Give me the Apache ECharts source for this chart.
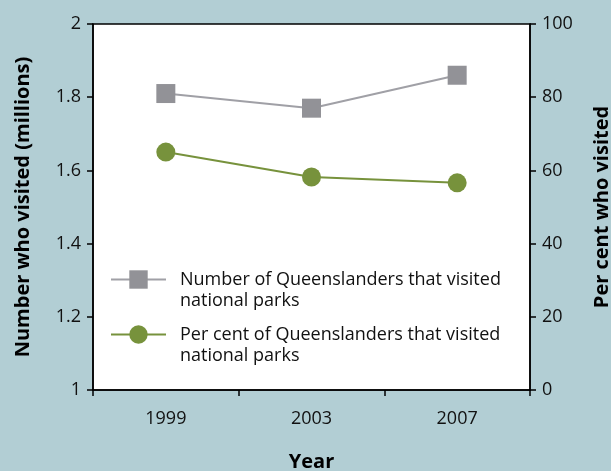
<!DOCTYPE html>
<html>
<head>
<meta charset="utf-8">
<script src="https://cdn.jsdelivr.net/npm/echarts@6/dist/echarts.min.js"></script>
<style>
html,body{margin:0;padding:0;background:#b2ced4;}
#chart{width:611px;height:471px;}
</style>
</head>
<body>
<div id="chart"></div>
<script>
var years = ['1999', '2003', '2007'];
var numberVisited = [1.81, 1.77, 1.86];
var percentVisited = [65, 58.2, 56.6];
var seriesNames = ['Number of Queenslanders that visited\nnational parks', 'Per cent of Queenslanders that visited\nnational parks'];

var FONT = 'Open Sans';
var chart = echarts.init(document.getElementById('chart'));
chart.setOption({
  backgroundColor: '#b2ced4',
  animation: false,
  textStyle: { fontFamily: FONT },
  grid: { left: 93, right: 81, top: 24, bottom: 81, containLabel: false, outerBoundsMode: 'none', show: true, backgroundColor: '#fff', borderColor: '#000', borderWidth: 1.5 },
  legend: {
    orient: 'vertical', left: 110, top: 248, padding: 0, itemWidth: 55, itemHeight: 23, itemGap: -8,
    data: seriesNames,
    formatter: function (name) {
      return '\n' + name.split('\n').map(function (s) { return '{t|' + s + '}'; }).join('\n');
    },
    textStyle: {
      fontFamily: FONT, fontSize: 18, color: '#111', lineHeight: 21,
      rich: { t: { fontFamily: FONT, fontSize: 18, color: '#111', lineHeight: 21, padding: [0, 0, 0, 9] } }
    }
  },
  xAxis: {
    type: 'category', data: years, boundaryGap: true,
    name: 'Year', nameLocation: 'middle', nameGap: 62,
    nameTextStyle: { fontFamily: FONT, fontSize: 20, fontWeight: 'bold', color: '#000' },
    axisLine: { lineStyle: { color: '#000', width: 1.5 } },
    axisTick: { show: true, length: 6, lineStyle: { color: '#000', width: 1.5 } },
    axisLabel: { fontFamily: FONT, fontSize: 18, color: '#111', margin: 20 },
    splitLine: { show: false }
  },
  yAxis: [
    {
      type: 'value', min: 1, max: 2, interval: 0.2, position: 'left',
      name: 'Number who visited (millions)', nameLocation: 'middle', nameGap: 60,
      nameTextStyle: { fontFamily: FONT, fontSize: 20, fontWeight: 'bold', color: '#000' },
      axisLine: { show: true, lineStyle: { color: '#000', width: 1.5 } },
      axisTick: { show: true, length: 6, lineStyle: { color: '#000', width: 1.5 } },
      axisLabel: { fontFamily: FONT, fontSize: 18, color: '#111', margin: 12 },
      splitLine: { show: false }
    },
    {
      type: 'value', min: 0, max: 100, interval: 20, position: 'right',
      name: 'Per cent who visited', nameLocation: 'middle', nameGap: 62, nameRotate: 90,
      nameTextStyle: { fontFamily: FONT, fontSize: 20, fontWeight: 'bold', color: '#000' },
      axisLine: { show: true, lineStyle: { color: '#000', width: 1.5 } },
      axisTick: { show: true, length: 6, lineStyle: { color: '#000', width: 1.5 } },
      axisLabel: { fontFamily: FONT, fontSize: 18, color: '#111', margin: 12 },
      splitLine: { show: false }
    }
  ],
  series: [
    {
      name: seriesNames[0], type: 'line', yAxisIndex: 0, data: numberVisited,
      symbol: 'rect', symbolSize: 19,
      itemStyle: { color: '#929297' },
      lineStyle: { color: '#a0a0a6', width: 2 }
    },
    {
      name: seriesNames[1], type: 'line', yAxisIndex: 1, data: percentVisited,
      symbol: 'circle', symbolSize: 19,
      itemStyle: { color: '#77923c' },
      lineStyle: { color: '#77923c', width: 2 }
    }
  ]
});
</script>
</body>
</html>
